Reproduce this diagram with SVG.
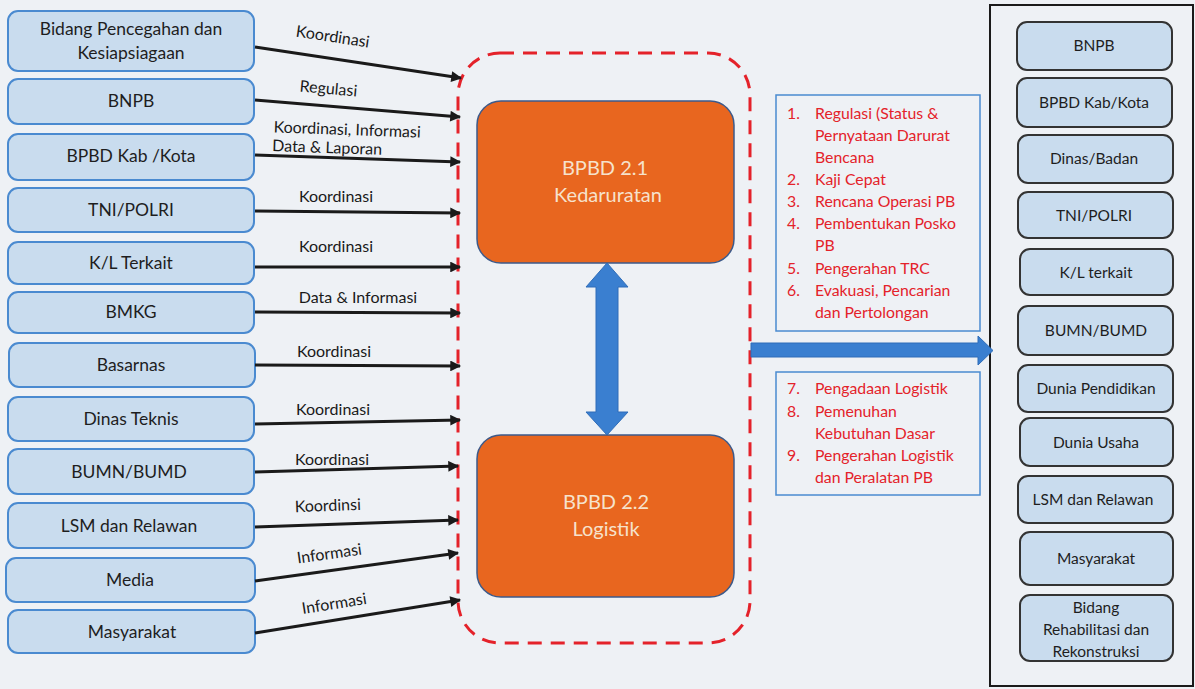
<svg xmlns="http://www.w3.org/2000/svg" width="1195" height="689" viewBox="0 0 1195 689">
<defs>
<marker id="ah" viewBox="0 0 10 10" refX="9" refY="5" markerWidth="4.3" markerHeight="3.6" orient="auto" markerUnits="strokeWidth">
<path d="M0,0 L10,5 L0,10 z" fill="#1a1a1a"/>
</marker>
<style>
.lb{fill:#c9dcee;stroke:#4a8ad0;stroke-width:2}
.rb{fill:#c9dcee;stroke:#333;stroke-width:2}
.t{font-family:Lato,"Liberation Sans",sans-serif;fill:#1e1e1e;text-anchor:middle}
.lt{font-size:17.5px}
.rt{font-size:15.5px}
.cl{font-family:Lato,"Liberation Sans",sans-serif;font-size:16px;fill:#1a1a1a;text-anchor:middle}
.c{stroke:#1a1a1a;stroke-width:3;fill:none;marker-end:url(#ah)}
.red{font-family:Lato,"Liberation Sans",sans-serif;font-size:15.8px;fill:#e4222a}
.ob{fill:#e8661f;stroke:#3d5a8a;stroke-width:1.5}
.ot{font-family:Lato,"Liberation Sans",sans-serif;font-size:20px;fill:#f6e2cc;text-anchor:middle}
</style>
</defs>
<rect width="1195" height="689" fill="#eef1f5"/>

<g id="left">
<g id="n1"><rect class="lb" x="8" y="11" width="246" height="60" rx="10"/><text class="t lt" x="131" y="35">Bidang Pencegahan dan</text><text class="t lt" x="131" y="59">Kesiapsiagaan</text></g>
<g id="n2"><rect class="lb" x="8" y="79" width="246" height="45" rx="10"/><text class="t lt" x="131" y="107">BNPB</text></g>
<g id="n3"><rect class="lb" x="8" y="134" width="246" height="46" rx="10"/><text class="t lt" x="131" y="162">BPBD Kab /Kota</text></g>
<g id="n4"><rect class="lb" x="8" y="188" width="246" height="44" rx="10"/><text class="t lt" x="131" y="216">TNI/POLRI</text></g>
<g id="n5"><rect class="lb" x="8" y="242" width="246" height="42" rx="10"/><text class="t lt" x="131" y="269">K/L Terkait</text></g>
<g id="n6"><rect class="lb" x="8" y="292" width="246" height="41" rx="10"/><text class="t lt" x="131" y="318">BMKG</text></g>
<g id="n7"><rect class="lb" x="9" y="343" width="246" height="44" rx="10"/><text class="t lt" x="131" y="371">Basarnas</text></g>
<g id="n8"><rect class="lb" x="8" y="397" width="246" height="44" rx="10"/><text class="t lt" x="131" y="425">Dinas Teknis</text></g>
<g id="n9"><rect class="lb" x="8" y="449" width="246" height="45" rx="10"/><text class="t lt" x="129" y="478">BUMN/BUMD</text></g>
<g id="n10"><rect class="lb" x="8" y="503" width="246" height="45" rx="10"/><text class="t lt" x="129" y="532">LSM dan Relawan</text></g>
<g id="n11"><rect class="lb" x="6" y="558" width="249" height="44" rx="10"/><text class="t lt" x="130" y="586">Media</text></g>
<g id="n12"><rect class="lb" x="8" y="610" width="247" height="43" rx="10"/><text class="t lt" x="132" y="638">Masyarakat</text></g>
</g>

<g id="center">
<rect id="group" x="458" y="53" width="292" height="590" rx="42" fill="none" stroke="#e4222a" stroke-width="3" stroke-dasharray="14 9"/>
<g id="kedaruratan"><rect class="ob" x="477" y="101" width="257" height="162" rx="24"/><text class="ot" x="605" y="175">BPBD 2.1</text><text class="ot" x="608" y="202">Kedaruratan</text></g>
<g id="logistik"><rect class="ob" x="477" y="435" width="257" height="162" rx="24"/><text class="ot" x="606" y="509">BPBD 2.2</text><text class="ot" x="606" y="536">Logistik</text></g>
</g>

<g id="lists">
<g id="list1">
<rect x="776" y="95" width="204" height="236" fill="none" stroke="#4a8ad0" stroke-width="1.5"/>
<text class="red" x="787" y="119">1.</text><text class="red" x="815" y="119">Regulasi (Status &amp;</text>
<text class="red" x="815" y="141">Pernyataan Darurat</text>
<text class="red" x="815" y="163">Bencana</text>
<text class="red" x="787" y="185">2.</text><text class="red" x="815" y="185">Kaji Cepat</text>
<text class="red" x="787" y="207">3.</text><text class="red" x="815" y="207">Rencana Operasi PB</text>
<text class="red" x="787" y="229">4.</text><text class="red" x="815" y="229">Pembentukan Posko</text>
<text class="red" x="815" y="251">PB</text>
<text class="red" x="787" y="274">5.</text><text class="red" x="815" y="274">Pengerahan TRC</text>
<text class="red" x="787" y="296">6.</text><text class="red" x="815" y="296">Evakuasi, Pencarian</text>
<text class="red" x="815" y="318">dan Pertolongan</text>
</g>
<g id="list2">
<rect x="776" y="372" width="204" height="123" fill="none" stroke="#4a8ad0" stroke-width="1.5"/>
<text class="red" x="787" y="394">7.</text><text class="red" x="815" y="394">Pengadaan Logistik</text>
<text class="red" x="787" y="417">8.</text><text class="red" x="815" y="417">Pemenuhan</text>
<text class="red" x="815" y="439">Kebutuhan Dasar</text>
<text class="red" x="787" y="461">9.</text><text class="red" x="815" y="461">Pengerahan Logistik</text>
<text class="red" x="815" y="483">dan Peralatan PB</text>
</g>
</g>

<g id="right">
<rect x="990" y="5" width="203" height="681" fill="none" stroke="#1a1a1a" stroke-width="2"/>
<g id="r1"><rect class="rb" x="1017" y="22" width="155" height="48" rx="10"/><text class="t rt" x="1094" y="51">BNPB</text></g>
<g id="r2"><rect class="rb" x="1017" y="78" width="155" height="49" rx="10"/><text class="t rt" x="1094" y="108">BPBD Kab/Kota</text></g>
<g id="r3"><rect class="rb" x="1018" y="135" width="155" height="48" rx="10"/><text class="t rt" x="1094" y="164">Dinas/Badan</text></g>
<g id="r4"><rect class="rb" x="1018" y="192" width="155" height="46" rx="10"/><text class="t rt" x="1094" y="221">TNI/POLRI</text></g>
<g id="r5"><rect class="rb" x="1020" y="249" width="153" height="46" rx="10"/><text class="t rt" x="1096" y="278">K/L terkait</text></g>
<g id="r6"><rect class="rb" x="1018" y="306" width="155" height="49" rx="10"/><text class="t rt" x="1096" y="336">BUMN/BUMD</text></g>
<g id="r7"><rect class="rb" x="1018" y="365" width="155" height="47" rx="10"/><text class="t rt" x="1096" y="394">Dunia Pendidikan</text></g>
<g id="r8"><rect class="rb" x="1020" y="418" width="153" height="48" rx="10"/><text class="t rt" x="1096" y="448">Dunia Usaha</text></g>
<g id="r9"><rect class="rb" x="1018" y="476" width="155" height="47" rx="10"/><text class="t rt" x="1093" y="505">LSM dan Relawan</text></g>
<g id="r10"><rect class="rb" x="1020" y="532" width="153" height="53" rx="10"/><text class="t rt" x="1096" y="564">Masyarakat</text></g>
<g id="r11"><rect class="rb" x="1020" y="595" width="153" height="66" rx="10"/><text class="t rt" x="1096" y="613">Bidang</text><text class="t rt" x="1096" y="635">Rehabilitasi dan</text><text class="t rt" x="1096" y="657">Rekonstruksi</text></g>
</g>

<g id="connectors">
<line class="c" x1="255" y1="47" x2="461" y2="78"/>
<line class="c" x1="255" y1="100" x2="460" y2="117"/>
<line class="c" x1="255" y1="155" x2="460" y2="162"/>
<line class="c" x1="255" y1="211" x2="460" y2="213"/>
<line class="c" x1="255" y1="267" x2="460" y2="267"/>
<line class="c" x1="255" y1="312" x2="460" y2="313"/>
<line class="c" x1="255" y1="365" x2="460" y2="366"/>
<line class="c" x1="255" y1="424" x2="460" y2="420"/>
<line class="c" x1="255" y1="472" x2="458" y2="466"/>
<line class="c" x1="255" y1="527" x2="458" y2="520"/>
<line class="c" x1="255" y1="581" x2="458" y2="553"/>
<line class="c" x1="255" y1="633" x2="460" y2="600"/>
<path d="M607,263 L628,287 L618,287 L618,412 L628,412 L607,435 L586,412 L596,412 L596,287 L586,287 Z" fill="#3a7fd0" stroke="#2f6db8" stroke-width="1"/>
<path d="M751,343 L978,343 L978,336 L993,350.5 L978,365 L978,357 L751,357 Z" fill="#3a7fd0" stroke="#2f6db8" stroke-width="1"/>
</g>

<g id="labels">
<text class="cl" transform="translate(332,42) rotate(8.5)">Koordinasi</text>
<text class="cl" transform="translate(328,94) rotate(5)">Regulasi</text>
<text class="cl" transform="translate(347,135) rotate(2)">Koordinasi, Informasi</text>
<text class="cl" transform="translate(327,153) rotate(2)">Data &amp; Laporan</text>
<text class="cl" x="336" y="202">Koordinasi</text>
<text class="cl" x="336" y="252">Koordinasi</text>
<text class="cl" x="358" y="303">Data &amp; Informasi</text>
<text class="cl" x="334" y="357">Koordinasi</text>
<text class="cl" x="333" y="415">Koordinasi</text>
<text class="cl" x="332" y="465">Koordinasi</text>
<text class="cl" transform="translate(328,511) rotate(-2)">Koordinsi</text>
<text class="cl" transform="translate(330,559) rotate(-8)">Informasi</text>
<text class="cl" transform="translate(335,609) rotate(-9)">Informasi</text>
</g>
</svg>
